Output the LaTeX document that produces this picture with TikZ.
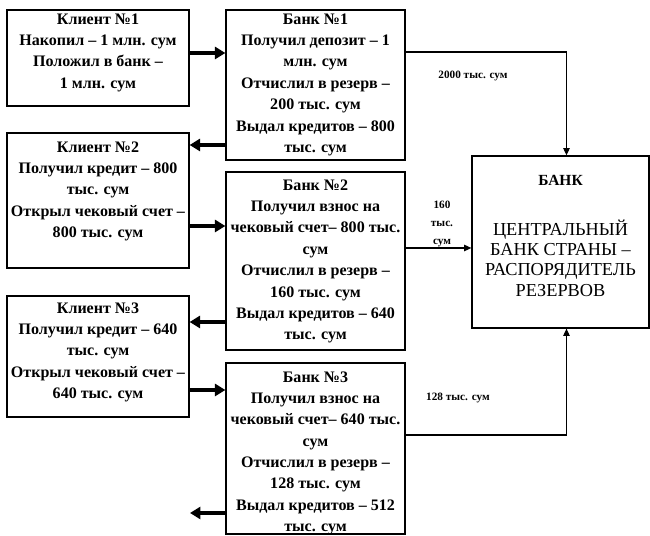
\documentclass[tikz,border=0pt]{standalone}
\usepackage{fontspec}
\setmainfont{Liberation Serif}
\usetikzlibrary{arrows.meta,positioning,calc}

\begin{document}
\begin{tikzpicture}[
    x=1cm,y=1cm,
    >=Latex,
    line join=miter,
    box/.style={draw=black, line width=0.9pt, inner sep=0pt},
    boxtext/.style={font=\bfseries\fontsize{11.4}{15.2}\selectfont, align=center, inner sep=0pt, anchor=north},
    sumlabel/.style={font=\bfseries\fontsize{8}{12.5}\selectfont, align=center, inner sep=0pt},
    moneyflow/.style={-{Triangle[length=2.6mm,width=3mm]}, line width=2.2pt},
    reserveflow/.style={-{Triangle[length=1.8mm,width=1.6mm]}, line width=0.8pt}
]
\useasboundingbox[fill=white] (0,0) rectangle (16.25,13.4);

% Clients
\node[box, minimum width=4.55cm, minimum height=2.4cm]   (client1) at (2.45,11.95) {};
\node[box, minimum width=4.55cm, minimum height=3.375cm] (client2) at (2.45,8.3875) {};
\node[box, minimum width=4.55cm, minimum height=3.025cm] (client3) at (2.45,4.4875) {};

% Banks
\node[box, minimum width=4.475cm, minimum height=3.75cm]  (bank1) at (7.8875,11.275) {};
\node[box, minimum width=4.475cm, minimum height=4.45cm]  (bank2) at (7.8875,6.875) {};
\node[box, minimum width=4.475cm, minimum height=4.275cm] (bank3) at (7.8875,2.1875) {};

% Central bank
\node[box, minimum width=4.425cm, minimum height=4.3cm] (central) at (14.0125,7.35) {};

% Texts
\node[boxtext] (client1text) at ([yshift=-0.1cm]client1.north) {Клиент №1\\Накопил – 1 млн. сум\\Положил в банк –\\1 млн. сум};
\node[boxtext] (client2text) at ([yshift=-0.22cm]client2.north) {Клиент №2\\Получил кредит – 800\\тыс. сум\\Открыл чековый счет –\\800 тыс. сум};
\node[boxtext] (client3text) at ([yshift=-0.17cm]client3.north) {Клиент №3\\Получил кредит – 640\\тыс. сум\\Открыл чековый счет –\\640 тыс. сум};
\node[boxtext] (bank1text) at ([yshift=-0.1cm]bank1.north) {Банк №1\\Получил депозит – 1\\млн. сум\\Отчислил в резерв –\\200 тыс. сум\\Выдал кредитов – 800\\тыс. сум};
\node[boxtext] (bank2text) at ([yshift=-0.2cm]bank2.north) {Банк №2\\Получил взнос на\\чековый счет– 800 тыс.\\сум\\Отчислил в резерв –\\160 тыс. сум\\Выдал кредитов – 640\\тыс. сум};
\node[boxtext] (bank3text) at ([yshift=-0.22cm]bank3.north) {Банк №3\\Получил взнос на\\чековый счет– 640 тыс.\\сум\\Отчислил в резерв –\\128 тыс. сум\\Выдал кредитов – 512\\тыс. сум};
\node[boxtext, font=\bfseries\fontsize{11}{14}\selectfont] (centraltitle) at ([yshift=-0.5cm]central.north) {БАНК};
\node[boxtext, font=\fontsize{13}{14.5}\selectfont] (centraltext) at ([yshift=-1.6cm]central.north) {ЦЕНТРАЛЬНЫЙ\\БАНК СТРАНЫ –\\РАСПОРЯДИТЕЛЬ\\РЕЗЕРВОВ};

% Money between clients and banks
\coordinate (lost) at (4.75,0.575);
\draw[moneyflow] ([yshift=0.125cm]client1.east) -- ([yshift=0.125cm]client1.east -| bank1.west);
\draw[moneyflow] ([yshift=-1.5cm]bank1.west) -- ([yshift=-1.5cm]bank1.west -| client2.east);
\draw[moneyflow] ([yshift=-0.6375cm]client2.east) -- ([yshift=-0.6375cm]client2.east -| bank2.west);
\draw[moneyflow] ([yshift=-1.525cm]bank2.west) -- ([yshift=-1.525cm]bank2.west -| client3.east);
\draw[moneyflow] ([yshift=-0.8375cm]client3.east) -- ([yshift=-0.8375cm]client3.east -| bank3.west);
\draw[moneyflow] ([yshift=-1.6125cm]bank3.west) -- (lost);

% Reserves
\draw[reserveflow] ([yshift=0.825cm]bank1.east) -| ([xshift=0.15cm]central.north);
\draw[reserveflow] ([yshift=0.325cm]bank2.east) -- ([yshift=0.325cm]bank2.east -| central.west);
\draw[reserveflow] ([yshift=0.3375cm]bank3.east) -| ([xshift=0.15cm]central.south);

\node[sumlabel] (sum1) at (11.825,11.5) {2000 тыс. сум};
\node[sumlabel] (sum2) at (11.05,7.8) {160\\тыс.\\сум};
\node[sumlabel] (sum3) at (11.45,3.45) {128 тыс. сум};

\end{tikzpicture}
\end{document}
